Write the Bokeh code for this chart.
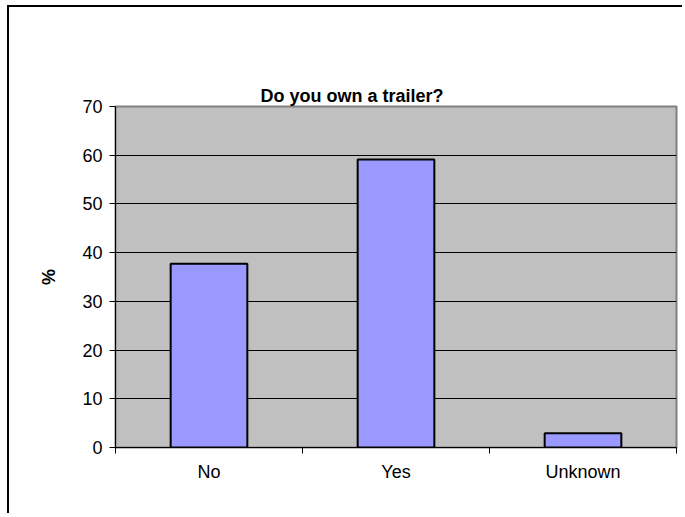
from bokeh.plotting import figure
from bokeh.models import (FactorRange, Range1d, FixedTicker, LinearAxis,
                          CategoricalAxis, ColumnDataSource, Title)
from bokeh.embed import file_html
from bokeh.resources import INLINE

# ---- data ----
categories = ["No", "Yes", "Unknown"]
percent = [37.7, 59.1, 2.9]
y_ticks = [0, 10, 20, 30, 40, 50, 60, 70]
title_text = "Do you own a trailer?"
y_label = "%"

FONT = "Liberation Sans"

src = ColumnDataSource(dict(cat=categories, pct=percent))

p = figure(
    x_range=FactorRange(*categories, range_padding=0, factor_padding=0),
    y_range=Range1d(0, 70),
    width=675, height=508,
    output_backend="svg", toolbar_location=None,
    x_axis_location=None, y_axis_location=None,
    min_border_left=106, min_border_right=8,
    min_border_top=99, min_border_bottom=68,
    background_fill_color="#C0C0C0",
    border_fill_color="white",
)
p.styles = {"margin-left": "9px", "margin-top": "7px",
            "box-shadow": "-2px -2px 0px 0px black"}
p.outline_line_color = "#808080"
p.outline_line_width = 2

# built-in title unused (it always sits next to the plot area)
p.title.text = ""
p.title.visible = False

p.vbar(x="cat", top="pct", width=0.41, source=src,
       fill_color="#9999FF", line_color="black", line_width=2)

# invisible spacer between the plot area and the title
spacer = LinearAxis(ticker=FixedTicker(ticks=[]))
spacer.axis_line_color = None
spacer.major_tick_line_color = None
spacer.minor_tick_line_color = None
spacer.major_tick_out = 62
spacer.major_tick_in = 0
spacer.minor_tick_out = 0
spacer.major_label_text_color = None
p.add_layout(spacer, "above")

# chart title, stacked outside the spacer
chart_title = Title(text=title_text, align="left", offset=145,
                    vertical_align="bottom", standoff=2,
                    text_font=FONT, text_font_style="bold",
                    text_font_size="18px", text_color="black")
p.add_layout(chart_title, "above")

# y axis
yax = LinearAxis(ticker=FixedTicker(ticks=y_ticks))
yax.axis_line_color = "black"
yax.major_tick_line_color = "black"
yax.major_tick_out = 6
yax.major_tick_in = 0
yax.minor_tick_line_color = None
yax.major_label_text_font = FONT
yax.major_label_text_font_size = "18px"
yax.major_label_text_color = "black"
yax.major_label_standoff = 7
yax.axis_label = y_label
yax.axis_label_text_font = FONT
yax.axis_label_text_font_style = "bold"
yax.axis_label_text_font_size = "18px"
yax.axis_label_text_color = "black"
yax.axis_label_standoff = 20
p.add_layout(yax, "left")

# grid
p.ygrid.grid_line_color = "black"
p.ygrid.grid_line_width = 1
p.ygrid.ticker = FixedTicker(ticks=y_ticks)
p.xgrid.grid_line_color = None

# x axis: tick marks at the category boundaries (synthetic coords 0..n)
edge_ax = LinearAxis(ticker=FixedTicker(ticks=list(range(len(categories) + 1))))
edge_ax.axis_line_color = "black"
edge_ax.major_tick_line_color = "black"
edge_ax.major_tick_out = 6
edge_ax.major_tick_in = 0
edge_ax.minor_tick_line_color = None
edge_ax.major_label_text_font_size = "1px"
edge_ax.major_label_text_color = None
edge_ax.major_label_standoff = 0
p.add_layout(edge_ax, "below")

cat_ax = CategoricalAxis()
cat_ax.axis_line_color = None
cat_ax.major_tick_line_color = None
cat_ax.major_tick_out = 0
cat_ax.major_tick_in = 0
cat_ax.major_label_text_font = FONT
cat_ax.major_label_text_font_size = "18px"
cat_ax.major_label_text_color = "black"
cat_ax.major_label_standoff = 8
p.add_layout(cat_ax, "below")

open("out.html", "w").write(file_html(p, INLINE))
